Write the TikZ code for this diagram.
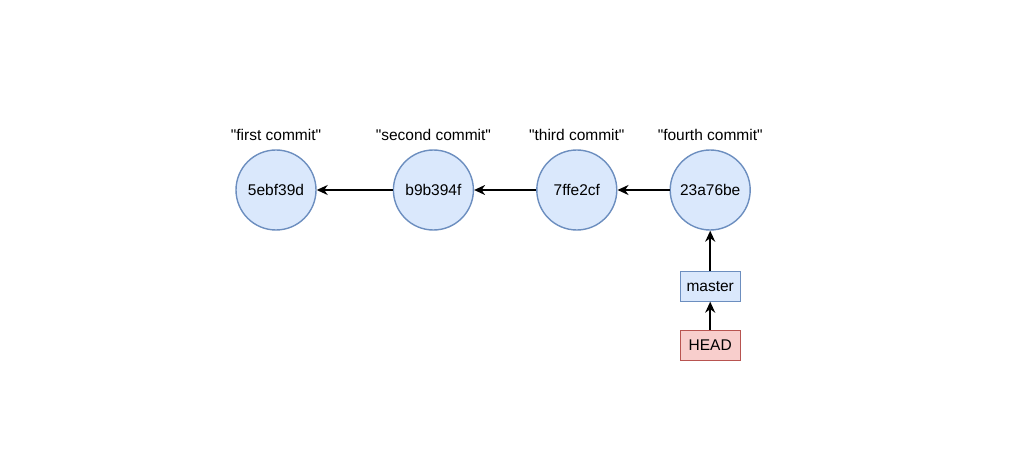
\documentclass[tikz,border=0pt]{standalone}
\usepackage{fontspec}
\setmainfont{Liberation Sans}
\usetikzlibrary{positioning,arrows.meta}
\definecolor{blfill}{HTML}{DAE8FC}
\definecolor{bldraw}{HTML}{6C8EBF}
\definecolor{rdfill}{HTML}{F8CECC}
\definecolor{rddraw}{HTML}{B85450}

\begin{document}
\begin{tikzpicture}[x=1pt,y=1pt,font=\fontsize{15.5}{18}\selectfont]
\tikzset{
	commit/.style={draw=bldraw, fill=blfill, circle, line width=1.4pt, minimum size=80pt, inner sep=0pt},
	msg/.style={inner sep=0pt},
	branch/.style={draw=bldraw, fill=blfill, line width=1pt, minimum width=60pt, minimum height=30pt, inner sep=0pt},
	headbox/.style={draw=rddraw, fill=rdfill, line width=1pt, minimum width=60pt, minimum height=30pt, inner sep=0pt},
	parent/.style={-{Stealth[length=11pt,width=10pt,inset=3.5pt]}, line width=1.6pt}
}
\useasboundingbox (0,0) rectangle (1011,-470);
% commits
\node [commit] (C1) at (276,-190) {5ebf39d};
\node [commit, right=76pt of C1] (C2) {b9b394f};
\node [commit, right=62pt of C2] (C3) {7ffe2cf};
\node [commit, right=52pt of C3] (C4) {23a76be};
% messages
\node [msg, above=8pt of C1] (M1) {\textquotedbl first commit\textquotedbl};
\node [msg, above=8pt of C2] (M2) {\textquotedbl second commit\textquotedbl};
\node [msg, above=8pt of C3] (M3) {\textquotedbl third commit\textquotedbl};
\node [msg, above=8pt of C4] (M4) {\textquotedbl fourth commit\textquotedbl};
% refs
\node [branch, below=40pt of C4] (master) {master};
\node [headbox, below=28pt of master] (head) {HEAD};

\draw [parent] (C2) -- (C1);
\draw [parent] (C3) -- (C2);
\draw [parent] (C4) -- (C3);
\draw [parent] (master) -- (C4);
\draw [parent] (head) -- (master);
\end{tikzpicture}
\end{document}
